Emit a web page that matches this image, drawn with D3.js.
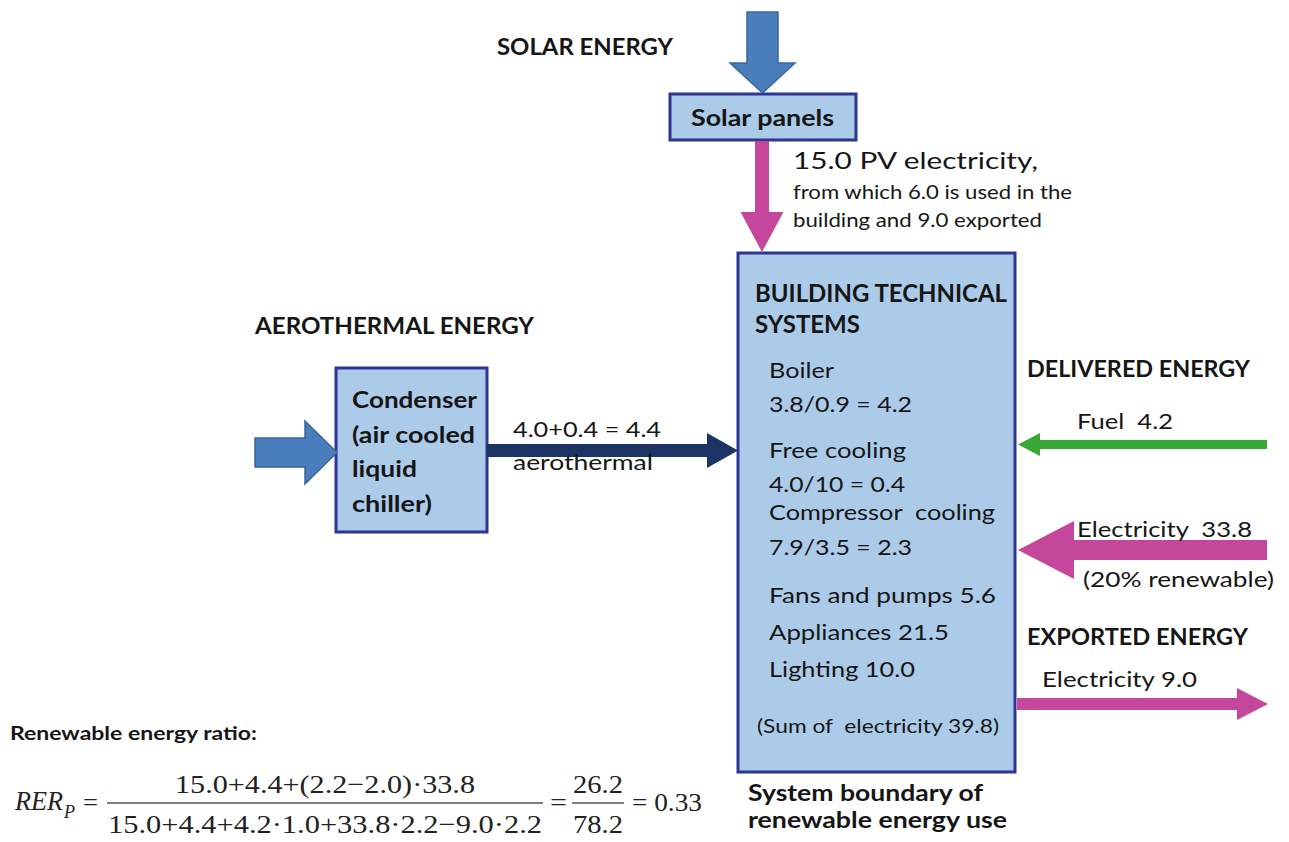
<!DOCTYPE html>
<html>
<head>
<meta charset="utf-8">
<script src="https://cdn.jsdelivr.net/npm/d3@7"></script>
<style>
  html, body { margin: 0; padding: 0; background: #fff; }
  svg { display: block; }
</style>
</head>
<body>
<div id="chart"></div>
<script>
// ---- Data (energy values and labels) ----
const headings = ["SOLAR ENERGY", "AEROTHERMAL ENERGY", "DELIVERED ENERGY", "EXPORTED ENERGY"];
const pvValues = [15.0, 6.0, 9.0];                 // produced, used in building, exported
const aeroValues = [4.0, 0.4, 4.4];                // free-cooling + compressor-cooling aerothermal
const condenserLines = ["Condenser", "(air cooled", "liquid", "chiller)"];
const systemTitle = ["BUILDING TECHNICAL", "SYSTEMS"];
const systemLines = [
  "Boiler", "3.8/0.9 = 4.2",
  "Free cooling", "4.0/10 = 0.4",
  "Compressor  cooling", "7.9/3.5 = 2.3",
  "Fans and pumps 5.6", "Appliances 21.5", "Lighting 10.0",
  "(Sum of  electricity 39.8)"
];
const deliveredValues = [4.2, 33.8];              // fuel, electricity
const exportedValues = [9.0];
const boundaryLines = ["System boundary of", "renewable energy use"];
const formulaNumerator = "15.0+4.4+(2.2\u22122.0)\u00b733.8";
const formulaDenominator = "15.0+4.4+4.2\u00b71.0+33.8\u00b72.2\u22129.0\u00b72.2";
const ratioValues = ["26.2", "78.2", "0.33"];

// ---- Drawing ----
const W = 1289, H = 842;
const svg = d3.select("#chart").append("svg").attr("width", W).attr("height", H);

const SANS = "Lato, 'Open Sans', sans-serif";
const SERIF = "'Liberation Serif', 'DejaVu Serif', serif";
const TXT = "#161616";
const BOXFILL = "#abcbe9";
const BOXSTROKE = "#2f3592";
const BLUE = "#4a7dbb";
const BLUEDARK = "#3b6699";
const PINK = "#c4479b";
const NAVY = "#1c3464";
const GREEN = "#3aa837";

const line = d3.line();

// arrow polygon from tail (x0,y0) to tip (x1,y1)
function arrow(x0, y0, x1, y1, shaftW, headW, headL) {
  const dx = x1 - x0, dy = y1 - y0, len = Math.hypot(dx, dy);
  const ux = dx / len, uy = dy / len, px = -uy, py = ux;
  const bx = x1 - ux * headL, by = y1 - uy * headL;
  const s = shaftW / 2, h = headW / 2;
  return [
    [x0 + px * s, y0 + py * s], [bx + px * s, by + py * s], [bx + px * h, by + py * h],
    [x1, y1],
    [bx - px * h, by - py * h], [bx - px * s, by - py * s], [x0 - px * s, y0 - py * s]
  ];
}
function drawArrow(pts, fill, stroke) {
  svg.append("path").attr("d", line(pts) + "Z")
    .attr("fill", fill)
    .attr("stroke", stroke || "none")
    .attr("stroke-width", stroke ? 1.5 : 0)
    .attr("stroke-linejoin", "miter");
}
function box(x0, y0, x1, y1) {
  svg.append("rect").attr("x", x0).attr("y", y0).attr("width", x1 - x0).attr("height", y1 - y0)
    .attr("fill", BOXFILL).attr("stroke", BOXSTROKE).attr("stroke-width", 3);
}
function text(str, x, y, size, opts = {}) {
  const t = svg.append("text").attr("x", x).attr("y", y)
    .attr("font-family", opts.family || SANS)
    .attr("font-size", size)
    .attr("font-weight", opts.bold ? 700 : 400)
    .attr("font-style", opts.italic ? "italic" : "normal")
    .attr("fill", opts.color || TXT)
    .style("white-space", "pre")
    .text(str);
  if (opts.len) t.attr("textLength", opts.len).attr("lengthAdjust", "spacingAndGlyphs");
  if (opts.anchor) t.attr("text-anchor", opts.anchor);
  return t;
}

// Boxes
box(670, 94, 856, 140);        // solar panels
box(738, 253, 1015, 772);      // building technical systems
box(336, 368, 487, 532);       // condenser

// Arrows
drawArrow(arrow(762.5, 12, 762.5, 93, 31, 65, 30), BLUE, BLUEDARK);          // solar input
drawArrow(arrow(762, 141, 762, 252, 14, 43, 40), PINK);                        // PV electricity
drawArrow(arrow(255, 452.5, 337, 452.5, 29, 63, 32), BLUE, BLUEDARK);          // aerothermal input
drawArrow(arrow(487, 450.5, 738, 450.5, 13, 35, 31), NAVY);                    // aerothermal to building
drawArrow(arrow(1267, 444.5, 1018, 444.5, 9, 23, 22), GREEN);                  // fuel
drawArrow(arrow(1267, 550, 1018, 550, 20, 58, 56), PINK);                      // delivered electricity
drawArrow(arrow(1017, 704, 1268, 704, 12, 32, 31), PINK);                      // exported electricity

// Headings
text(headings[0], 497, 55, 23, { bold: true, len: 176 });
text(headings[1], 255, 334, 23, { bold: true, len: 279 });
text(headings[2], 1027, 377, 22, { bold: true, len: 223 });
text(headings[3], 1027, 645, 22, { bold: true, len: 221 });

// Solar panels
text("Solar panels", 691, 126, 23, { bold: true, len: 143 });
text(pvValues[0].toFixed(1) + " PV electricity,", 793, 169, 23, { len: 245 });
text("from which " + pvValues[1].toFixed(1) + " is used in the", 793, 199, 19, { len: 279 });
text("building and " + pvValues[2].toFixed(1) + " exported", 793, 227, 19, { len: 249 });

// Condenser
const condLens = [125, 123, 65, 80];
condenserLines.forEach((s, i) => text(s, 352, 408 + i * 34.7, 23, { bold: true, len: condLens[i] }));
text(aeroValues[0].toFixed(1) + "+" + aeroValues[1].toFixed(1) + " = " + aeroValues[2].toFixed(1), 513, 437, 22, { len: 148 });
text("aerothermal", 513, 470, 22, { len: 140 });

// Building technical systems
text(systemTitle[0], 755, 302, 24, { bold: true, len: 252 });
text(systemTitle[1], 755, 333, 24, { bold: true, len: 105 });
const sysY = [378, 412, 458, 492, 520, 555, 603, 640, 677, 733];
const sysLen = [65, 143, 137, 136, 226, 143, 227, 180, 146, 242];
const sysX = [769, 769, 769, 769, 769, 769, 769, 769, 769, 757];
systemLines.forEach((s, i) => text(s, sysX[i], sysY[i], i === 9 ? 19 : 22, { len: sysLen[i] }));

// Boundary caption
text(boundaryLines[0], 748, 801, 22, { bold: true, len: 235 });
text(boundaryLines[1], 748, 828, 22, { bold: true, len: 259 });

// Delivered / exported labels
text("Fuel  " + deliveredValues[0].toFixed(1), 1077, 429, 21, { len: 96 });
text("Electricity  " + deliveredValues[1].toFixed(1), 1077, 537, 21, { len: 175 });
text("(20% renewable)", 1083, 587, 21, { len: 191 });
text("Electricity " + exportedValues[0].toFixed(1), 1042, 687, 21, { len: 155 });

// Renewable energy ratio
text("Renewable energy ratio:", 10, 740, 19, { bold: true, len: 247 });
const FC = "#222";
text("RER", 15, 810, 28, { family: SERIF, italic: true, len: 48, color: FC });
text("P", 64, 818, 18, { family: SERIF, italic: true, color: FC });
text("=", 83, 811, 26, { family: SERIF, len: 15, color: FC });
svg.append("line").attr("x1", 107).attr("x2", 543).attr("y1", 803).attr("y2", 803)
  .attr("stroke", "#555").attr("stroke-width", 1.6);
text(formulaNumerator, 175, 793, 26, { family: SERIF, len: 300, color: FC });
text(formulaDenominator, 108, 833, 26, { family: SERIF, len: 434, color: FC });
text("=", 550, 811, 26, { family: SERIF, len: 17, color: FC });
svg.append("line").attr("x1", 572).attr("x2", 624).attr("y1", 803).attr("y2", 803)
  .attr("stroke", "#555").attr("stroke-width", 1.6);
text(ratioValues[0], 573, 793, 26, { family: SERIF, len: 50, color: FC });
text(ratioValues[1], 573, 833, 26, { family: SERIF, len: 50, color: FC });
text("= " + ratioValues[2], 632, 811, 26, { family: SERIF, len: 70, color: FC });
</script>
</body>
</html>
